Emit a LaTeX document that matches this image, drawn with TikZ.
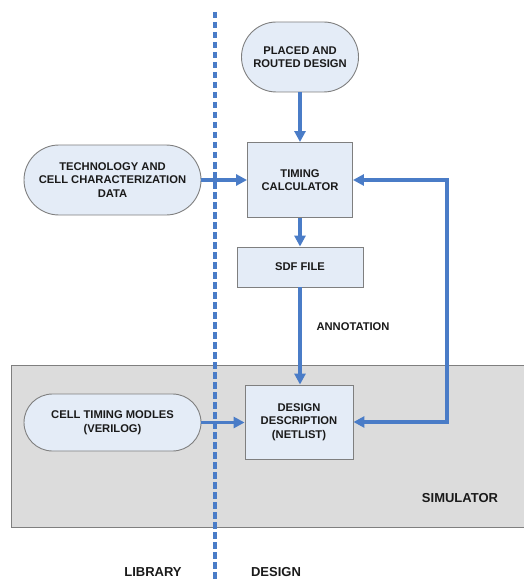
\documentclass[tikz,border=0pt]{standalone}
\usepackage{fontspec}
\setmainfont{Liberation Sans}
\usetikzlibrary{arrows.meta,shapes.misc}
\definecolor{boxfill}{HTML}{E4ECF7}
\definecolor{boxline}{HTML}{7F7F7F}
\definecolor{flow}{HTML}{4A7CC7}
\definecolor{simfill}{HTML}{DCDCDC}
\definecolor{ink}{HTML}{1A1A1A}
\tikzset{
  base/.style={draw=boxline, fill=boxfill, line width=0.9pt, text=ink,
    font=\bfseries\fontsize{11.2}{13.5}\selectfont, align=center, inner sep=0pt},
  stadium/.style={base, rounded rectangle},
  procbox/.style={base, rectangle},
  tip/.style={Triangle[length=11pt,width=11pt]},
  flowarrow/.style={draw=flow, line width=3.5pt, -{Triangle[length=11pt,width=11pt]}},
  lbl/.style={text=ink, font=\bfseries\fontsize{11.2}{13.5}\selectfont},
  biglbl/.style={text=ink, font=\bfseries\fontsize{13}{15}\selectfont},
}
\begin{document}
\begin{tikzpicture}[x=1pt,y=-1pt]
\useasboundingbox (0,0) rectangle (523,580);
% simulator region
\fill[simfill] (11,365) rectangle (530,527);
\draw[boxline, line width=0.9pt] (530,365) -- (11,365) -- (11,527) -- (530,527);
\node[biglbl] (sim) at (460,498) {SIMULATOR};
% library / design divider
\draw[flow, line width=3.5pt, dash pattern=on 6.5pt off 3.5pt] (215,12) -- (215,580);
\node[biglbl] (lib) at (153,572) {LIBRARY};
\node[biglbl] (des) at (276,572) {DESIGN};
% nodes
\node[stadium, minimum width=117pt, minimum height=70pt] (pr) at (300,57) {PLACED AND\\ROUTED DESIGN};
\node[procbox, minimum width=105pt, minimum height=75pt] (tc) at (300,180) {TIMING\\CALCULATOR};
\node[stadium, minimum width=177pt, minimum height=70pt] (tech) at (112.5,180) {TECHNOLOGY AND\\CELL CHARACTERIZATION\\DATA};
\node[procbox, minimum width=126pt, minimum height=40pt] (sdf) at (300,267) {SDF FILE};
\node[procbox, minimum width=108pt, minimum height=74pt] (dd) at (299,422) {DESIGN\\DESCRIPTION\\(NETLIST)};
\node[stadium, minimum width=177pt, minimum height=57pt] (ctm) at (112.5,422.5) {CELL TIMING MODLES\\(VERILOG)};
\node[lbl, anchor=west] (ann) at (313,327) {ANNOTATION};
% connectors
\coordinate (fbtop) at (447,180);
\coordinate (fbbot) at (447,422);
\draw[flowarrow] (pr.south) -- (tc.north);
\draw[flowarrow] (tech.east) -- (tc.west);
\draw[flowarrow] (tc.south) -- (sdf.north);
\draw[flowarrow] (sdf.south) -- (sdf.south |- dd.north);
\draw[flowarrow] (ctm.east) -- (ctm.east -| dd.west);
\draw[flowarrow, {Triangle[length=11pt,width=11pt]}-{Triangle[length=11pt,width=11pt]}] (tc.east) -- (fbtop) -- (fbbot) -- (dd.east);
\end{tikzpicture}
\end{document}
